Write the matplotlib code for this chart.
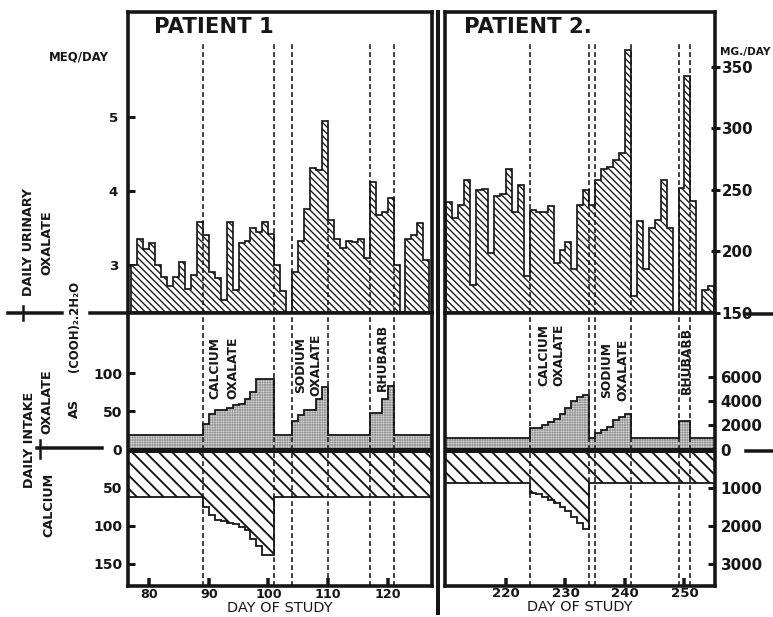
import numpy as np
import matplotlib.pyplot as plt
from matplotlib.lines import Line2D

plt.rcParams['font.family'] = ['DejaVu Sans']
plt.rcParams['font.weight'] = 'bold'
plt.rcParams['hatch.linewidth'] = 1.1

# ---- patient 1 -------------------------------------------------------
# daily urinary oxalate (meq/day), days 77..126, nan = no collection
p1_days = np.arange(77, 127)
p1_urine = [3.00, 3.35, 3.22, 3.30, 3.00, 2.84, 2.72, 2.84, 3.04, 2.67,
            2.86, 3.58, 3.41, 2.91, 2.82, 2.52, 3.58, 2.66, 3.30, 3.33,
            3.50, 3.45, 3.58, 3.42, 3.00, 2.65, np.nan, 2.90, 3.33, 3.75,
            4.31, 4.29, 4.95, 3.61, 3.35, 3.23, 3.32, 3.31, 3.35, 3.10,
            4.12, 3.68, 3.71, 3.90, 3.00, np.nan, 3.35, 3.41, 3.57, 3.07]
# daily intake (meq), days 76..127
p1_intake_days = np.arange(76, 128)
p1_oxalate_in = [19, 19, 19, 19, 19, 19, 19, 19, 19, 19, 19, 19, 19,
                 34, 47, 52, 52, 55, 58, 60, 66, 76, 92, 92, 92,
                 19, 19, 19,
                 37, 45, 52, 52, 66, 82,
                 19, 19, 19, 19, 19, 19, 19,
                 48, 48, 66, 83,
                 19, 19, 19, 19, 19, 19, 19]
p1_calcium_in = [62, 62, 62, 62, 62, 62, 62, 62, 62, 62, 62, 62, 62,
                 76, 86, 92, 94, 96, 98, 102, 106, 118, 126, 138, 138,
                 62, 62, 62, 62, 62, 62, 62, 62, 62, 62, 62, 62, 62, 62,
                 62, 62, 62, 62, 62, 62, 62, 62, 62, 62, 62, 62, 62]
p1_periods = [89, 101, 104, 110, 117, 121]
p1_upper_full = [89, 101, 104, 117, 121]

# ---- patient 2 -------------------------------------------------------
# daily urinary oxalate (mg/day), days 210..254
p2_days = np.arange(210, 255)
p2_urine = [240, 227, 238, 258, 173, 250, 251, 199, 245, 247,
            267, 232, 254, 180, 234, 232, 232, 237, 191, 201,
            208, 186, 238, 250, 238, 258, 267, 269, 274, 280,
            364, 164, 225, 186, 219, 226, 258, 219, np.nan, 252,
            343, 241, np.nan, 169, 172]
p2_intake_days = np.arange(209, 256)
p2_oxalate_in = [15, 15, 15, 15, 15, 15, 15, 15, 15, 15, 15, 15, 15, 15, 15,
                 28, 28, 32, 36, 40, 46, 54, 63, 69, 72,
                 15,
                 22, 26, 30, 39, 43, 47,
                 15, 15, 15, 15, 15, 15, 15, 15,
                 38, 38,
                 15, 15, 15, 15, 15]
p2_calcium_in = [44, 44, 44, 44, 44, 44, 44, 44, 44, 44, 44, 44, 44, 44, 44,
                 57, 58, 62, 66, 70, 75, 81, 88, 96, 104,
                 44, 44, 44, 44, 44, 44, 44, 44, 44, 44, 44,
                 44, 44, 44, 44, 44, 44, 44, 44, 44, 44, 44]
p2_periods = [224, 234, 235, 241, 249, 251]

# right-hand mg scales of patient 2 (mg per meq)
ox_mg_ticks = [2000, 4000, 6000]
ca_mg_ticks = [1000, 2000, 3000]
MG_PER_MEQ_OX = 63
MG_PER_MEQ_CA = 20

W, H, DPI = 773, 617, 80
PT = 72 / DPI
INK = '#161616'
URINE_HATCH = '\\' * 4      # ~6.7 px spacing
CALCIUM_HATCH = '\\' * 2    # ~13 px spacing
STIPPLE = '+' * 8


def fx(px):
    return px / W


def fy(py):
    return 1 - py / H


fig = plt.figure(figsize=(W / DPI, H / DPI), dpi=DPI)


def panel(x0, x1):
    up = fig.add_axes([fx(x0), fy(313), fx(x1) - fx(x0), 301 / H])
    lo = fig.add_axes([fx(x0), fy(586), fx(x1) - fx(x0), 273 / H])
    for ax in (up, lo):
        for s in ax.spines.values():
            s.set_linewidth(3.6 * PT)
            s.set_color(INK)
        ax.tick_params(colors=INK, width=3 * PT, direction='in')
        ax.set_xticks([])
        ax.set_yticks([])
    return up, lo


def step_blocks(ax, days, vals, base, sign=1, hatch_lw=None, **kw):
    vals = np.asarray(vals, float) * sign
    days = np.asarray(days)
    idx = np.flatnonzero(~np.isnan(vals))
    for g in np.split(idx, np.flatnonzero(np.diff(idx) > 1) + 1):
        edges = np.append(days[g], days[g][-1] + 1)
        p = ax.stairs(vals[g], edges, baseline=base, **kw)
        if hatch_lw is not None and hasattr(p, 'set_hatch_linewidth'):
            p.set_hatch_linewidth(hatch_lw)


def urine(ax, days, vals, base, full, part):
    step_blocks(ax, days, vals, base, fill=True, facecolor='white',
                edgecolor=INK, hatch=URINE_HATCH, linewidth=1.7 * PT,
                hatch_lw=1.2, zorder=2)
    for d in full:
        ax.axvline(d, ymax=0.9, color=INK, lw=1.6 * PT, ls=(0, (3, 2)), zorder=3)
    vals = np.asarray(vals, float)
    for d in part:
        ax.plot([d, d], [base, vals[list(days).index(d)]], color=INK,
                lw=1.6 * PT, ls=(0, (3, 2)), zorder=3)


def intake(ax, days, oxal, calc, lines):
    step_blocks(ax, days, oxal, 0, fill=True, facecolor='#e4e4e4',
                edgecolor='#8c8c8c', hatch=STIPPLE, linewidth=0, hatch_lw=0.45, zorder=2)
    step_blocks(ax, days, oxal, 0, fill=False, edgecolor=INK,
                linewidth=1.8 * PT, zorder=2.5)
    step_blocks(ax, days, calc, 0, sign=-1, fill=True, facecolor='white',
                edgecolor=INK, hatch=CALCIUM_HATCH, linewidth=1.8 * PT,
                hatch_lw=1.7, zorder=2)
    ax.axhline(0, color=INK, lw=5 * PT, zorder=4)
    for d in lines:
        ax.axvline(d, color=INK, lw=1.6 * PT, ls=(0, (3, 2)), zorder=3)
    ax.set_ylim(-179, 179)


# ---------------- patient 1 ----------------
a1u, a1l = panel(128, 432)
urine(a1u, p1_days, p1_urine, 2.35, p1_upper_full,
      [d for d in p1_periods if d not in p1_upper_full])
a1u.set_xlim(76.45, 127.45)
a1u.set_ylim(2.35, 6.42)
a1u.set_yticks([3, 4, 5])
a1u.tick_params(axis='y', length=7 * PT, labelsize=12, pad=9)
a1u.text(0.085, 0.95, 'PATIENT 1', transform=a1u.transAxes, ha='left',
         va='center', fontsize=19, color=INK)

intake(a1l, p1_intake_days, p1_oxalate_in, p1_calcium_in, p1_periods)
a1l.set_xlim(76.45, 127.45)
a1l.set_yticks([100, 50, 0, -50, -100, -150])
a1l.set_yticklabels(['100', '50', '0', '50', '100', '150'])
a1l.tick_params(axis='y', length=7 * PT, labelsize=12.5, pad=5)
a1l.set_xticks([80, 90, 100, 110, 120])
a1l.tick_params(axis='x', length=8 * PT, width=3.5 * PT, labelsize=11.5, pad=2)
a1l.set_xlabel('DAY OF STUDY', fontsize=13, labelpad=0, color=INK)
a1l.text(92.5, 107, 'CALCIUM\nOXALATE', rotation=90, ha='center', va='center',
         fontsize=11, linespacing=1.45, color=INK)
a1l.text(106.7, 111, 'SODIUM\nOXALATE', rotation=90, ha='center', va='center',
         fontsize=11, linespacing=1.2, color=INK)
a1l.text(119.2, 121, 'RHUBARB', rotation=90, ha='center', va='center',
         fontsize=11, color=INK)

# ---------------- patient 2 ----------------
a2u, a2l = panel(445, 715)
urine(a2u, p2_days, p2_urine, 150, p2_periods, [])
a2u.set_xlim(209.75, 255.13)
a2u.set_ylim(150, 394.7)
a2u.yaxis.tick_right()
a2u.set_yticks([150, 200, 250, 300, 350])
a2u.tick_params(axis='y', direction='inout', length=9 * PT, labelsize=13.5, pad=2)
a2u.text(0.07, 0.95, 'PATIENT 2.', transform=a2u.transAxes, ha='left',
         va='center', fontsize=19, color=INK)

intake(a2l, p2_intake_days, p2_oxalate_in, p2_calcium_in, p2_periods)
a2l.set_xlim(209.75, 255.13)
a2l.yaxis.tick_right()
a2l.set_yticks([v / MG_PER_MEQ_OX for v in ox_mg_ticks] + [0]
               + [-v / MG_PER_MEQ_CA for v in ca_mg_ticks])
a2l.set_yticklabels([str(v) for v in ox_mg_ticks] + ['0']
                    + [str(v) for v in ca_mg_ticks])
a2l.tick_params(axis='y', length=7 * PT, labelsize=13.5, pad=5)
a2l.set_xticks([220, 230, 240, 250])
a2l.tick_params(axis='x', length=8 * PT, width=3.5 * PT, labelsize=12, pad=1)
a2l.set_xlabel('DAY OF STUDY', fontsize=13, labelpad=0, color=INK)
a2l.text(227.6, 124, 'CALCIUM\nOXALATE', rotation=90, ha='center', va='center',
         fontsize=11, linespacing=1.25, color=INK)
a2l.text(238.3, 104, 'SODIUM\nOXALATE', rotation=90, ha='center', va='center',
         fontsize=11, linespacing=1.25, color=INK)
a2l.text(250.4, 117, 'RHUBARB', rotation=90, ha='center', va='center',
         fontsize=11, color=INK)

# ---------------- labels and rules outside the frames ----------------
fig.text(fx(79), fy(57), 'MEQ/DAY', ha='center', va='center', fontsize=10.5, color=INK)
fig.text(fx(745), fy(52), 'MG./DAY', ha='center', va='center', fontsize=9.5, color=INK)

side = [('DAILY URINARY', 29, 242), ('OXALATE', 47, 243),
        ('DAILY INTAKE', 30, 440), ('OXALATE', 47, 402),
        ('CALCIUM', 49, 505), ('AS', 74, 408), ('(COOH)₂.2H₂O', 74, 326)]
for s, x, y in side:
    fig.text(fx(x), fy(y), s, rotation=90, ha='center', va='center',
             fontsize=11.5 if s != '(COOH)₂.2H₂O' else 10.5, color=INK)

rules = [((8, 62), (313, 313), 3.5), ((90, 127), (313, 313), 3.5),
         ((23, 23), (306, 320), 2.5),
         ((37, 102), (448, 448), 3.5), ((40, 40), (440, 458), 2.5),
         ((746, 773), (314, 314), 3.5), ((746, 773), (451, 451), 3.5),
         ((438, 438), (12, 613), 4)]
for xs, ys, lw in rules:
    fig.add_artist(Line2D([fx(xs[0]), fx(xs[1])], [fy(ys[0]), fy(ys[1])],
                          transform=fig.transFigure, color=INK, lw=lw * PT))

fig.savefig('out.png', dpi=DPI)
